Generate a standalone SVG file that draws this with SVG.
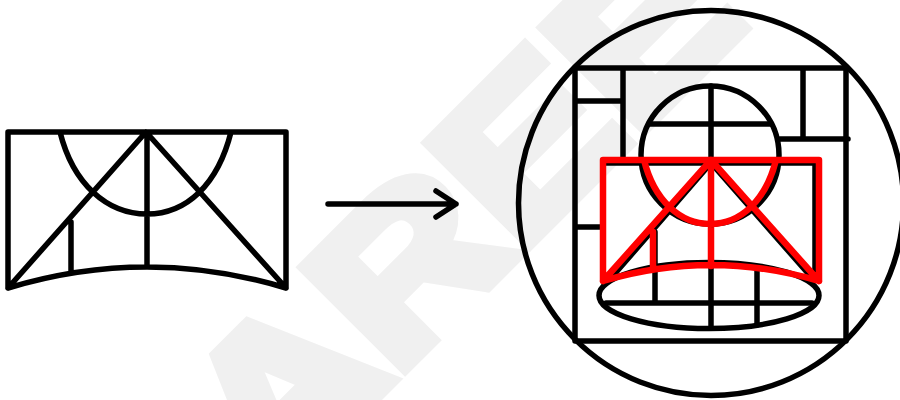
<svg xmlns="http://www.w3.org/2000/svg" width="900" height="400" viewBox="0 0 900 400">
<style>
.k{fill:none;stroke:#000;stroke-width:5.500;stroke-linecap:round;stroke-linejoin:round}
.r{fill:none;stroke:#f00;stroke-width:6.500;stroke-linecap:round;stroke-linejoin:round}
.w{fill:#f0f0f0;stroke:#f0f0f0;stroke-width:14px;font-family:"Liberation Sans",Arial,sans-serif;font-weight:700;font-size:205px}
</style>
<rect width="900" height="400" fill="#fff"/>
<g id="watermark"><text class="w" transform="translate(270,502) rotate(-45) scale(1.19,1)">AREE</text></g>
<g id="source-figure">
<path class="k" d="M8 288V132H286V288M8 288Q147 246 286 288M8 288L146 132L286 288M147 132V267M71 222V272M60 132C73 184 107 214 147 214C187 214 218 184 231 132"/>
</g>
<g id="connectors">
<path class="k" d="M328 204H456M436 191L456 204L436 217"/>
</g>
<g id="target-figure">
<circle class="k" cx="711" cy="203" r="192.500"/>
<path class="k" d="M575 341V68H846V341ZM576 101H623M623 68V160M803 68V139M780 139H848M650 124H770M711 86V328M576 227H603M606 303H812M655 232V303M757 270V325"/>
<circle class="k" cx="710" cy="155" r="69"/>
<ellipse class="k" cx="709" cy="295.500" rx="110" ry="33"/>
<path class="k" d="M815 163V280M603 163H815M711 163L612 277M711 163L812 278"/>
</g>
<g id="overlay-figure">
<path class="r" d="M603 281V160H819V281M603 281Q711 249 819 281M603 281L711 160L819 281M711 160V266M653 232V268M644 160C654 200 680 224 710 224C741 224 766 200 776 160"/>
</g>
</svg>
